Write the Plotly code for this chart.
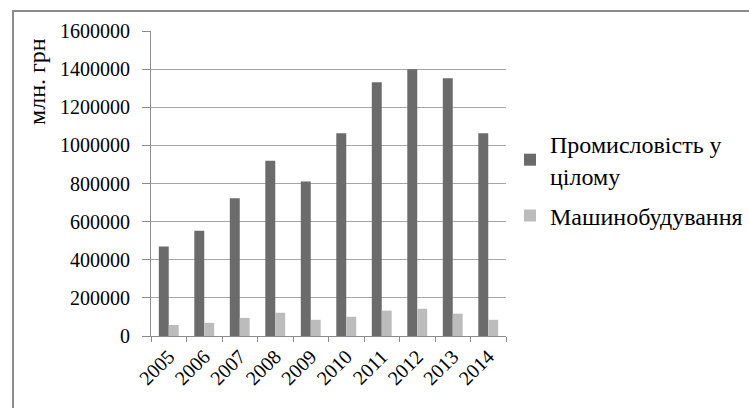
import plotly.graph_objects as go

years = ["2005", "2006", "2007", "2008", "2009", "2010", "2011", "2012", "2013", "2014"]
industry_total = [470000, 552000, 722000, 920000, 810000, 1063000, 1331000, 1399000, 1352000, 1063000]
machine_building = [58000, 69000, 95000, 122000, 85000, 101000, 133000, 143000, 117000, 85000]
y_ticks = [0, 200000, 400000, 600000, 800000, 1000000, 1200000, 1400000, 1600000]

W, H = 749, 408
L, R, T, B = 151, 243, 31, 72
pw, ph = W - L - R, H - T - B

def px(x):
    return (x - L) / pw

def py(y):
    return (H - B - y) / ph

font = "Liberation Serif"

fig = go.Figure()
fig.add_trace(go.Bar(x=years, y=industry_total, name="Промисловість у<br>цілому",
                     legendgroup="g1",
                     marker=dict(color="#6b6b6b", line=dict(width=0))))
fig.add_trace(go.Bar(x=years, y=machine_building, name="Машинобудування",
                     legendgroup="g2",
                     marker=dict(color="#bcbcbc", line=dict(width=0))))

fig.update_layout(
    width=W, height=H,
    margin=dict(l=L, r=R, t=T, b=B, pad=0, autoexpand=False),
    paper_bgcolor="white", plot_bgcolor="white",
    barmode="group", bargap=0.44, bargroupgap=0,
    font=dict(family=font, size=20, color="#000000"),
    showlegend=True,
    legend=dict(xref="container", yref="container", x=510 / W, y=1 - 122 / H,
                xanchor="left", yanchor="top",
                font=dict(family=font, size=24, color="#000000"),
                itemwidth=30, tracegroupgap=6, bgcolor="rgba(0,0,0,0)"),
    xaxis=dict(type="category", tickangle=-45, showgrid=False,
               showline=True, linecolor="#8c8c8c", linewidth=1,
               ticks="outside", tickson="boundaries", ticklen=5, tickcolor="#8c8c8c",
               tickfont=dict(family=font, size=20, color="#000000")),
    yaxis=dict(range=[0, 1600000], tickvals=y_ticks, tickformat="d",
               showgrid=True, gridcolor="#a6a6a6", gridwidth=1,
               showline=True, linecolor="#8c8c8c", linewidth=1,
               ticks="outside", ticklen=8, tickcolor="#8c8c8c",
               ticklabelstandoff=8,
               tickfont=dict(family=font, size=20, color="#000000"),
               zeroline=False),
    shapes=[dict(type="rect", xref="paper", yref="paper",
                 x0=px(13), x1=px(760), y0=py(420), y1=py(11),
                 line=dict(color="#8c8c8c", width=2), fillcolor="rgba(0,0,0,0)", layer="below")],
    annotations=[dict(text="млн. грн", xref="paper", yref="paper",
                      x=px(37), y=py(82), textangle=-90, showarrow=False,
                      xanchor="center", yanchor="middle",
                      font=dict(family=font, size=24, color="#000000"))],
)

fig.write_html("out.html", config={"displayModeBar": False},
               post_script="document.body.style.margin='0';document.body.style.overflow='hidden';")
